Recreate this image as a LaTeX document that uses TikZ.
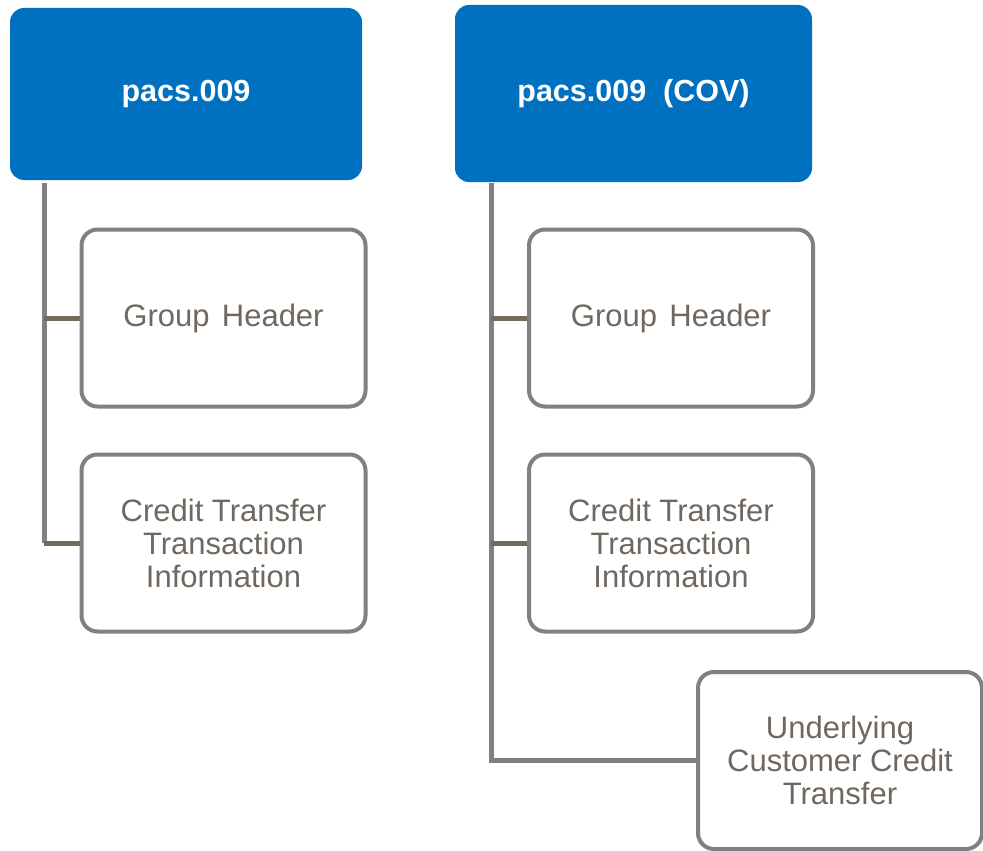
\documentclass[tikz,border=0pt]{standalone}
\usepackage{fontspec}
\setmainfont{Liberation Sans}
\usepackage{xcolor}
\definecolor{msgBlue}{HTML}{0070C0}
\definecolor{boxGray}{HTML}{808080}
\definecolor{stubBrown}{HTML}{76695D}
\definecolor{textGray}{HTML}{706860}

\begin{document}
\begin{tikzpicture}[x=1pt, y=-1pt,
  msgbox/.style={rectangle, rounded corners=14pt, fill=msgBlue, draw=none, text=white, font=\fontsize{30.5}{33}\selectfont\bfseries, align=center},
  partbox/.style={rectangle, rounded corners=16pt, draw=boxGray, line width=4pt, fill=white, text=textGray, font=\fontsize{31}{33}\selectfont, align=center, minimum width=284pt, minimum height=177pt, inner sep=0pt},
  trunk/.style={draw=boxGray, line width=5pt},
  stub/.style={draw=stubBrown, line width=5pt}]
  \useasboundingbox (0,0) rectangle (983,851);
  % message headers
  \node[msgbox, minimum width=352pt, minimum height=172pt] (pkt) at (186,94) {pacs.009};
  \node[msgbox, minimum width=357pt, minimum height=177pt] (cov) at (633.5,93.5) {pacs.009\ \ (COV)};
  % blocks of pacs.009
  \node[partbox] (ghA) at (223.5,318) {Group\hspace{0.4em}Header};
  \node[partbox] (ctA) at (223.5,543) {Credit Transfer\\Transaction\\Information};
  % blocks of pacs.009 (COV)
  \node[partbox] (ghB) at (671,318) {Group\hspace{0.4em}Header};
  \node[partbox] (ctB) at (671,543) {Credit Transfer\\Transaction\\Information};
  \node[partbox] (uct) at (840,760.5) {Underlying\\Customer Credit\\Transfer};
  % connectors
  \coordinate (topA) at (44,183);
  \coordinate (topB) at (491,183);
  \draw[trunk] (topA) -- (topA |- ctA.west);
  \draw[stub] (topA |- ghA.west) -- (ghA.west);
  \draw[stub] (topA |- ctA.west) -- (ctA.west);
  \draw[trunk] (topB) |- (uct.west);
  \draw[stub] (topB |- ghB.west) -- (ghB.west);
  \draw[stub] (topB |- ctB.west) -- (ctB.west);
\end{tikzpicture}
\end{document}
